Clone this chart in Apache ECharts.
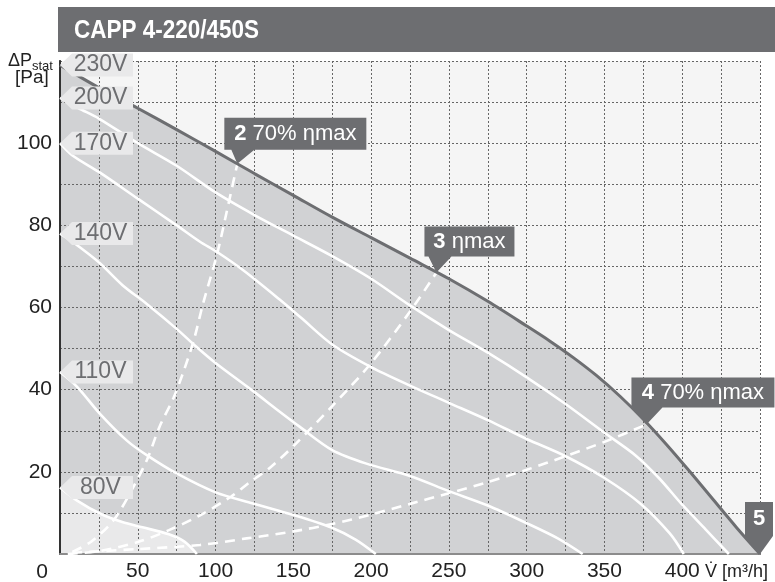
<!DOCTYPE html>
<html><head><meta charset="utf-8">
<script src="https://cdn.jsdelivr.net/npm/echarts@6/dist/echarts.min.js"></script>
<style>html,body{margin:0;padding:0;background:#fff}#c{width:775px;height:582px}</style>
</head><body><div id="c"></div>
<script>
// ---- data ----
const title = 'CAPP 4-220/450S';
const xTickLabels = [50, 100, 150, 200, 250, 300, 350, 400];
const yTickLabels = [20, 40, 60, 80, 100];

const curve230 = [[0,119],[25,113.5],[50,108.5],[75,103.3],[100,98],[125,92.6],[150,87.3],[175,82],[200,77],[225,72],[250,67],[275,61.5],[300,55.5],[315,51.8],[330,47.8],[345,43.4],[360,38.4],[375,32.8],[390,26.6],[405,20],[420,13.2],[435,6.4],[450,0]];
const curve200 = [[0,111],[12,108.5],[25,106],[50,100],[75,94.5],[100,88],[125,82.5],[150,77.5],[175,72.5],[200,67],[225,60.5],[250,54.5],[275,49],[300,43],[325,36.5],[350,29.5],[370,24],[385,18.5],[400,12],[415,6],[430,0]];
const curve170 = [[0,100],[8,97],[25,93],[50,86.5],[75,80],[90,76],[101,73.5],[118,69],[141,62],[155,57.5],[175,51],[200,45.5],[225,41],[250,36.8],[275,32.6],[300,28],[325,23.8],[350,18.5],[373,12.3],[392,5],[401,0]];
const curve140 = [[0,78],[8,76],[25,71],[40,65.5],[56,60.8],[75,54.8],[86,51],[100,46.5],[124,39.7],[140,35],[154,31],[175,25.3],[197,22],[225,19],[250,15.3],[275,11.8],[300,7.5],[320,3.8],[336,0]];
const curve110 = [[0,44.3],[11,40.7],[26,34],[43,27.6],[56,24],[75,19.6],[100,15],[124,12.3],[150,9.5],[174,6.5],[190,3.5],[203,0]];
const curve80 = [[0,16.2],[11,13],[26,9.8],[40,7.8],[53,6.5],[70,4.8],[80,3],[88,0]];

const eff2 = [[8,0.5],[20,3],[34,8],[45,14.8],[56,23],[64,31],[73,38],[79,44],[86,52],[92,61],[101,73],[107,83],[114,95]];
const eff3 = [[5,0],[25,0.7],[50,2.9],[70,5.8],[90,9.4],[110,14],[122,17.5],[135,21],[152,27],[175,36],[199,46],[225,59],[242,68.5]];
const eff4 = [[8,0.3],[50,1.2],[90,2.2],[120,3.8],[150,5.5],[175,7.3],[200,9.6],[225,12.2],[250,14.8],[275,17.5],[300,20.5],[325,23.8],[350,27.3],[377,31.5]];

const voltageNames = ['230V', '200V', '170V', '140V', '110V', '80V'];
const calloutTexts = ['{b|2} 70% ηmax', '{b|3} ηmax', '{b|4} 70% ηmax', '{b|5}'];

// ---- build chart ----
const FONT = '"Liberation Sans", Arial, sans-serif';
const DARK = '#6d6e71';
const curves = [curve230, curve200, curve170, curve140, curve110, curve80];
const SM = 0.3;

const labelPoints = curves.map((c, i) => [c[0][0], c[0][1], voltageNames[i]]);

const calloutShapes = [
  {path: 'path://M0,0L142,0L142,32L30,32L13,46L7,32L0,32Z', size: [142, 46], offset: [58, -23], lo: [0, -7]},
  {path: 'path://M0,0L90,0L90,30L27,30L12,46L4,30L0,30Z', size: [90, 46], offset: [33, -23], lo: [0, -8]},
  {path: 'path://M0,0L143,0L143,30L31,30L15,47L0,30Z', size: [143, 47], offset: [56.5, -23.5], lo: [0, -8.5]},
  {path: 'path://M0,0L28,0L28,34L15,52L0,34Z', size: [28, 52], offset: [-1, -26], lo: [0, -9]}
];
const calloutAnchors = [eff2[eff2.length-1], eff3[eff3.length-1], eff4[eff4.length-1], curve230[curve230.length-1]];
const calloutData = calloutAnchors.map((p, i) => ({
  value: [p[0], p[1], calloutTexts[i]],
  symbol: calloutShapes[i].path,
  symbolSize: calloutShapes[i].size,
  symbolOffset: calloutShapes[i].offset,
  label: {offset: calloutShapes[i].lo}
}));

const series = [];
series.push({type:'line', data: curve230, smooth: SM, symbol:'none', lineStyle:{width:0}, areaStyle:{color:'#d1d2d4', opacity:1}, z:1, silent:true});
series.push({type:'line', data: curve80, smooth: SM, symbol:'none', lineStyle:{width:0}, areaStyle:{color:'#e9e9ea', opacity:1}, z:1, silent:true});
[curve200, curve170, curve140, curve110, curve80].forEach(c => {
  series.push({type:'line', data:c, smooth: SM, symbol:'none', lineStyle:{color:'#ffffff', width:2.6}, z:3, silent:true});
});
[eff2, eff3, eff4].forEach(c => {
  series.push({type:'line', data:c, smooth: SM, symbol:'none', lineStyle:{color:'#ffffff', width:2.6, type:[10,7]}, z:3, silent:true});
});
series.push({type:'line', data: curve230, smooth: SM, symbol:'none', lineStyle:{color:DARK, width:3}, z:4, silent:true});
series.push({
  type:'scatter', data: labelPoints, z:5, silent:true, clip:false,
  symbol:'path://M0,11.5L12,0L73,0L73,23L12,23Z', symbolSize:[73,23], symbolOffset:[36.5,0],
  itemStyle:{color:'#e9e9ea', opacity:1},
  label:{show:true, position:'inside', offset:[4,0], formatter: p => p.value[2], color:DARK, fontSize:23, fontFamily:FONT}
});
series.push({
  type:'scatter', data: calloutData, z:6, silent:true, clip:false,
  itemStyle:{color:DARK, opacity:1},
  label:{show:true, position:'inside', formatter: p => p.value[2], color:'#fff', fontSize:22, fontFamily:FONT,
    rich:{b:{fontWeight:'bold', fontSize:22, color:'#fff', fontFamily:FONT}}}
});

const splitStyle = {show:true, lineStyle:{color:'#666', width:1, type:[2,2]}};
const option = {
  animation:false,
  backgroundColor:'#ffffff',
  grid:{left:60, right:15, top:61, bottom:26, show:true, backgroundColor:'#f5f5f5', borderWidth:0},
  xAxis:[
    {type:'value', min:0, max:450, interval:25, z:2,
     axisLine:{show:true, lineStyle:{color:'#333', width:2}}, axisTick:{show:false},
     splitLine:splitStyle,
     axisLabel:{margin:7, color:'#222', fontSize:21, fontFamily:FONT,
       formatter: v => xTickLabels.includes(v) ? String(v) : ''}},
    {type:'value', position:'top', min:0, max:450, z:2,
     axisLine:{show:true, lineStyle:{color:'#8c8c8c', width:2}}, axisTick:{show:false}, axisLabel:{show:false}, splitLine:{show:false}}
  ],
  yAxis:[
    {type:'value', min:0, max:120, interval:10, z:2,
     axisLine:{show:true, lineStyle:{color:'#333', width:2}}, axisTick:{show:false},
     splitLine:splitStyle,
     axisLabel:{margin:8, color:'#222', fontSize:21, fontFamily:FONT,
       formatter: v => yTickLabels.includes(v) ? String(v) : ''}},
    {type:'value', position:'right', min:0, max:120, z:2,
     axisLine:{show:true, lineStyle:{color:'#333', width:1.5}}, axisTick:{show:false}, axisLabel:{show:false}, splitLine:{show:false}}
  ],
  graphic:[
    {type:'rect', shape:{x:58, y:7, width:717, height:45}, style:{fill:DARK}, z:10},
    {type:'text', x:74, y:31, scaleX:0.9, z:11,
     style:{text:title, fill:'#fff', font:'bold 25px ' + FONT, align:'left', verticalAlign:'middle', textAlign:'left', textVerticalAlign:'middle'}},
    {type:'text', x:8, y:61, z:11, style:{text:'ΔP', fill:'#222', font:'18px ' + FONT, align:'left', verticalAlign:'middle', textAlign:'left', textVerticalAlign:'middle'}},
    {type:'text', x:32, y:66, z:11, style:{text:'stat', fill:'#222', font:'13px ' + FONT, align:'left', verticalAlign:'middle', textAlign:'left', textVerticalAlign:'middle'}},
    {type:'text', x:15, y:78, z:11, style:{text:'[Pa]', fill:'#222', font:'19px ' + FONT, align:'left', verticalAlign:'middle', textAlign:'left', textVerticalAlign:'middle'}},
    {type:'text', x:42, y:572, z:11, style:{text:'0', fill:'#222', font:'21px ' + FONT, align:'center', verticalAlign:'middle', textAlign:'center', textVerticalAlign:'middle'}},
    {type:'text', x:705, y:572, z:11, style:{text:'V\u0307 [m³/h]', fill:'#222', font:'18px ' + FONT, align:'left', verticalAlign:'middle', textAlign:'left', textVerticalAlign:'middle'}}
  ],
  series: series
};
const chart = echarts.init(document.getElementById('c'), null, {renderer:'canvas'});
chart.setOption(option);
</script></body></html>
